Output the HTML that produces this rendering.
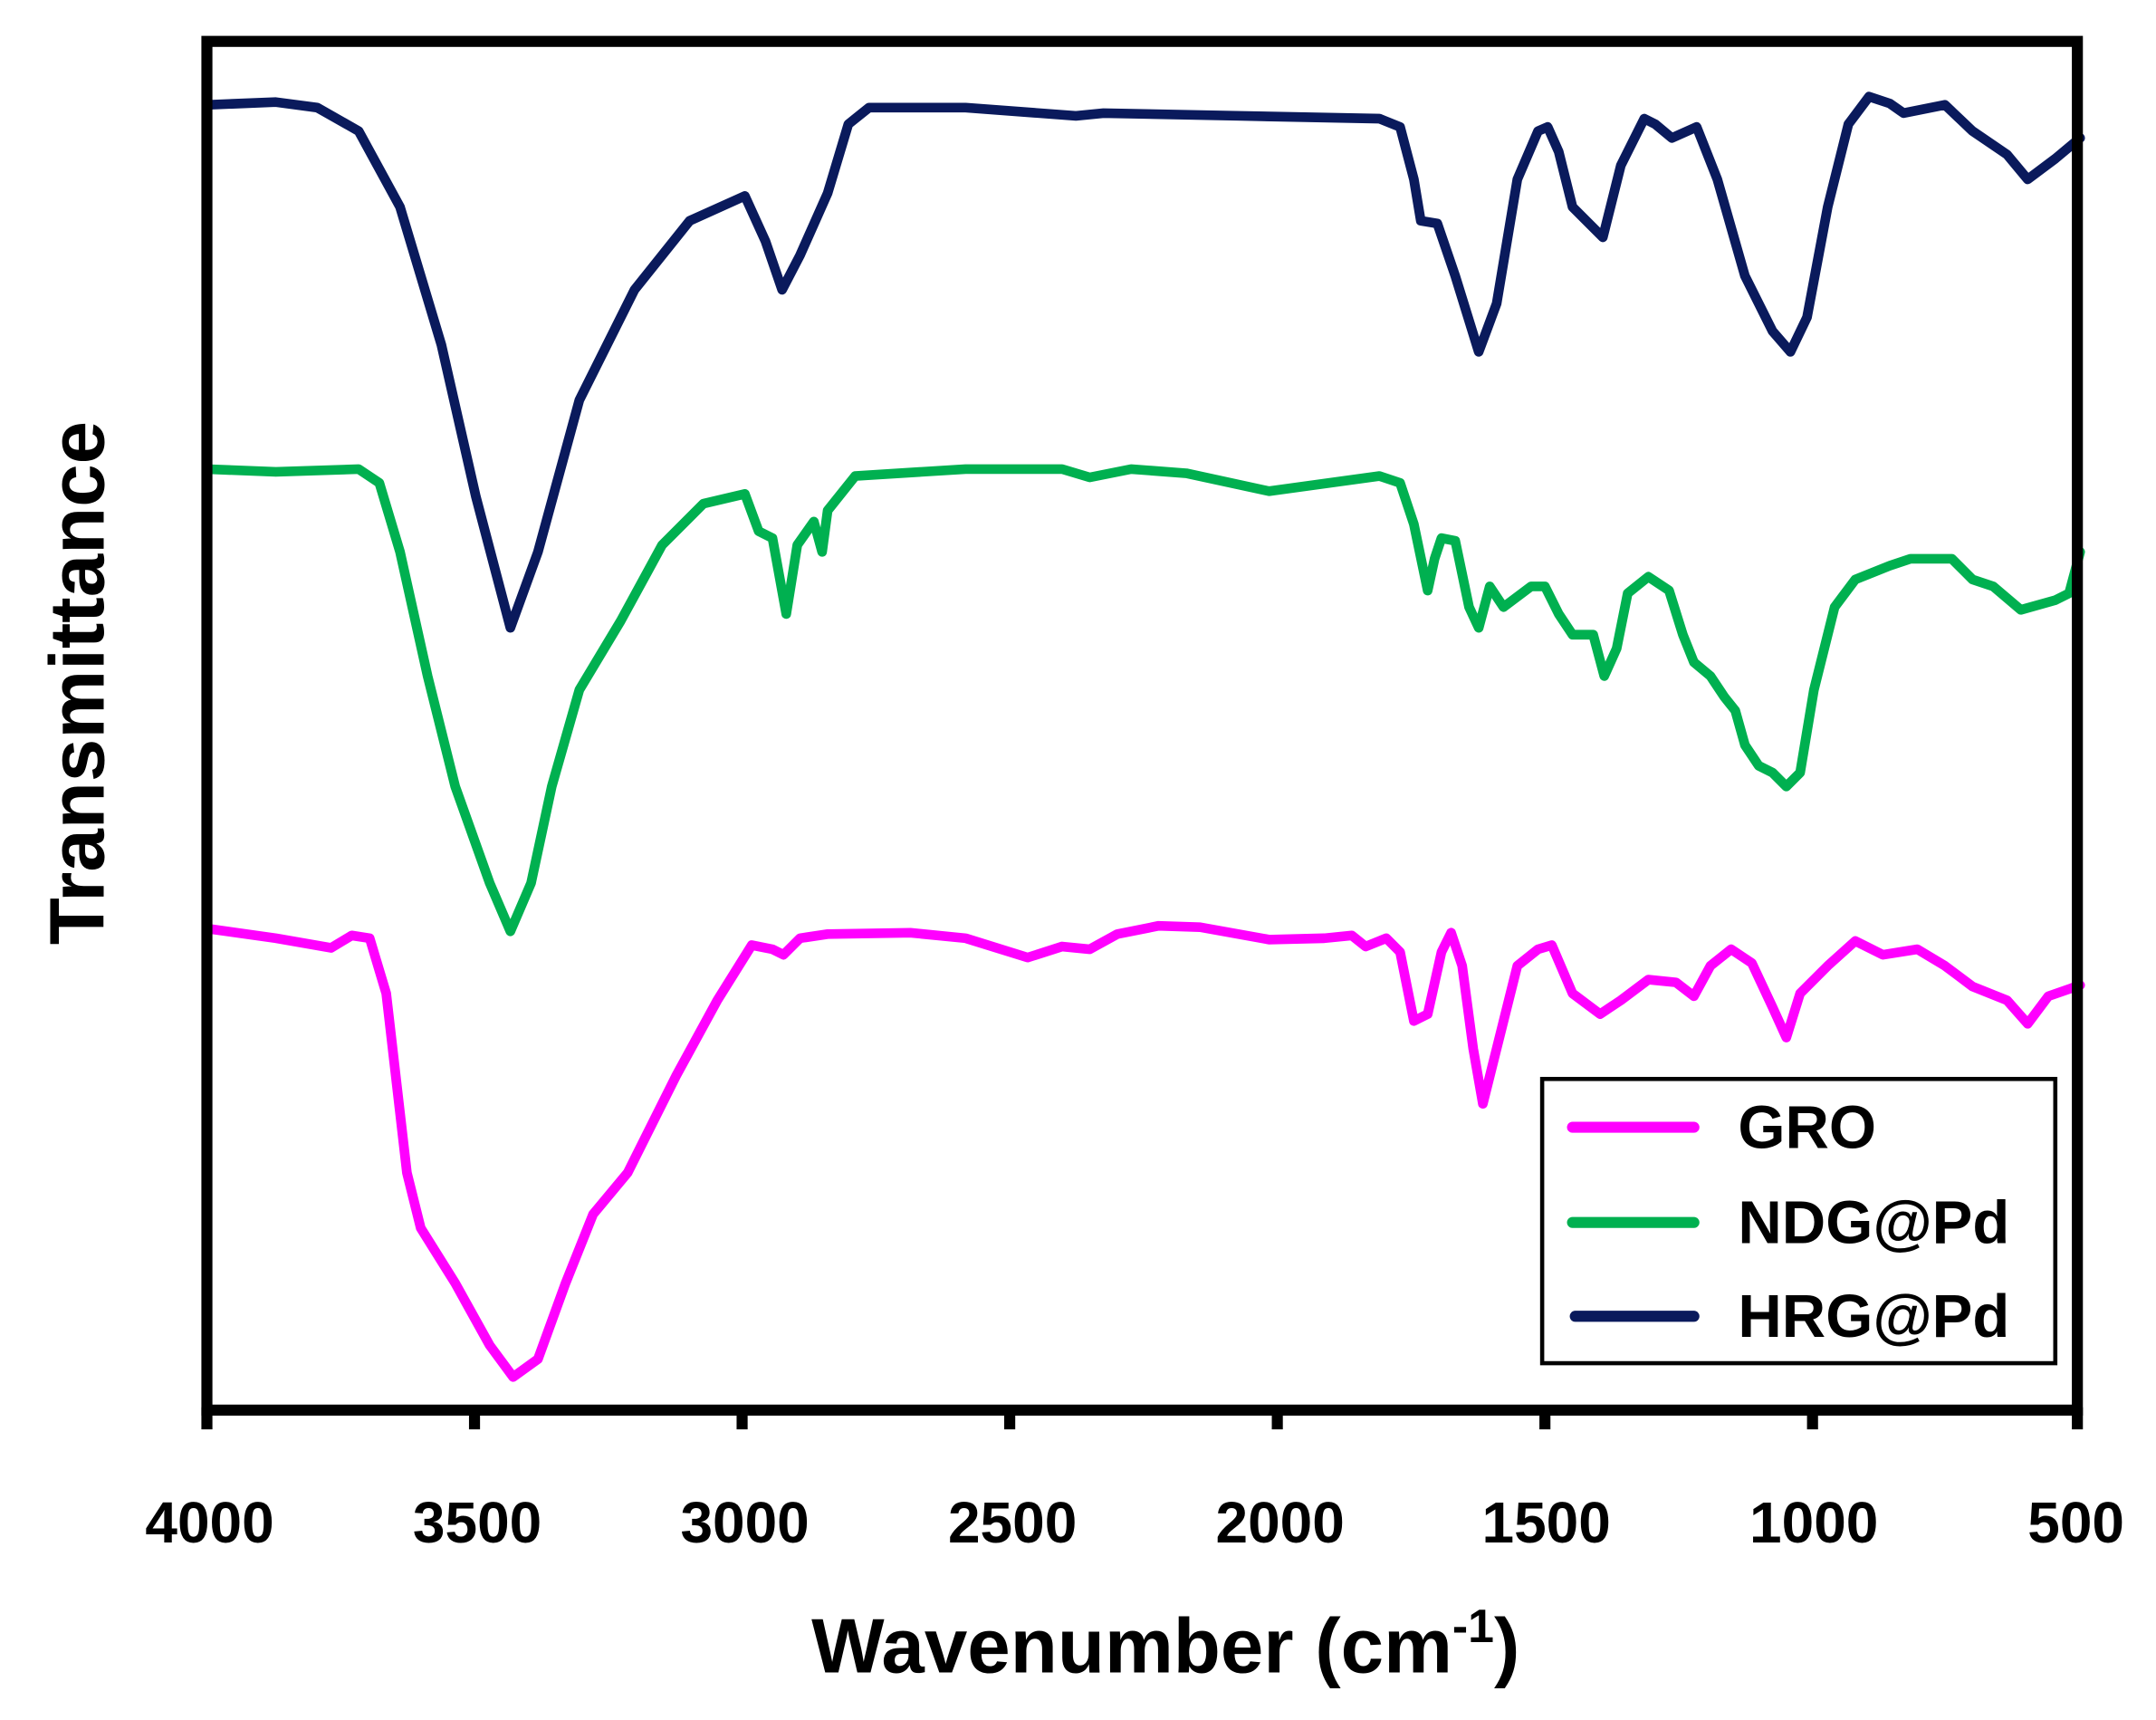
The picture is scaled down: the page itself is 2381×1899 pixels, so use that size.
<!DOCTYPE html>
<html><head><meta charset="utf-8"><style>
html,body{margin:0;padding:0;background:#fff;width:2381px;height:1899px;overflow:hidden}
svg{display:block}
text{font-family:"Liberation Sans",sans-serif;font-weight:bold;fill:#000}
</style></head><body>
<svg width="2381" height="1899" viewBox="0 0 1563 1246.6" preserveAspectRatio="none">
<rect x="0" y="0" width="1563" height="1247" fill="#fff"/>
<g fill="none" stroke-linejoin="round" stroke-linecap="round" stroke-width="7">
<polyline stroke="#0a1a5c" points="150,76 200,74 230,78 260,95 290,150 320,250 345,360 370,455 390,400 420,290 460,210 500,160 540,142 555,175 567,210 580,185 600,140 615,90 630,78 700,78 780,84 800,82 900,84 1000,86 1015,92 1025,130 1030,160 1042,162 1055,200 1072,255 1085,220 1100,130 1115,95 1122,92 1130,110 1140,150 1162,172 1175,120 1192,86 1200,90 1212,100 1230,92 1245,130 1265,200 1285,240 1298,255 1310,230 1325,150 1340,90 1355,70 1370,75 1380,82 1410,76 1430,95 1455,112 1470,130 1490,115 1508,100"/>
<polyline stroke="#00b050" points="150,340 200,342 260,340 275,350 290,400 310,490 330,570 355,640 370,675 385,640 400,570 420,500 450,450 480,395 510,365 540,358 550,385 560,390 570,445 578,395 590,378 596,400 600,370 620,345 700,340 770,340 790,346 820,340 860,343 920,356 1000,345 1015,350 1025,380 1035,428 1040,405 1045,390 1055,392 1065,440 1072,455 1080,425 1090,440 1110,425 1120,425 1130,445 1140,460 1155,460 1163,490 1172,470 1180,430 1195,418 1210,428 1220,460 1228,480 1240,490 1250,505 1258,515 1265,540 1275,555 1285,560 1295,570 1305,560 1315,500 1330,440 1345,420 1370,410 1385,405 1415,405 1430,420 1445,425 1465,442 1490,435 1500,430 1508,400"/>
<polyline stroke="#ff00ff" points="150,673 200,680 240,687 255,678 268,680 280,720 295,850 305,890 330,930 355,975 372,998 390,985 410,930 430,880 455,850 490,780 520,725 545,685 560,688 568,692 580,680 600,677 660,676 700,680 745,694 770,686 790,688 810,677 840,671 870,672 920,681 960,680 980,678 990,686 1005,680 1015,690 1025,740 1035,735 1045,690 1052,676 1060,700 1068,760 1075,800 1085,760 1100,700 1115,688 1125,685 1140,720 1160,735 1175,725 1195,710 1215,712 1228,722 1240,700 1255,688 1270,698 1285,730 1295,752 1305,720 1325,700 1345,682 1365,692 1390,688 1410,700 1430,715 1455,725 1470,742 1485,722 1508,714"/>
</g>
<rect x="150" y="30" width="1356" height="992" fill="none" stroke="#000" stroke-width="8"/>
<g stroke="#000" stroke-width="8">
<line x1="150" y1="1020" x2="150" y2="1036"/><line x1="344" y1="1020" x2="344" y2="1036"/><line x1="538" y1="1020" x2="538" y2="1036"/><line x1="732" y1="1020" x2="732" y2="1036"/><line x1="926" y1="1020" x2="926" y2="1036"/><line x1="1120" y1="1020" x2="1120" y2="1036"/><line x1="1314" y1="1020" x2="1314" y2="1036"/><line x1="1506" y1="1020" x2="1506" y2="1036"/>
</g>
<g font-size="42" text-anchor="middle" style="font-weight:normal">
<text x="152" y="1118">4000</text><text x="346" y="1118">3500</text><text x="540" y="1118">3000</text><text x="734" y="1118">2500</text><text x="928" y="1118">2000</text><text x="1121" y="1118">1500</text><text x="1315" y="1118">1000</text><text x="1505" y="1118">500</text>
</g>
<text x="845" y="1212" font-size="56" text-anchor="middle">Wavenumber (cm<tspan font-size="34" dy="-22">-1</tspan><tspan dy="22">)</tspan></text>
<text transform="translate(75,495) rotate(-90)" font-size="56" text-anchor="middle">Transmittance</text>
<rect x="1118" y="782" width="372" height="206" fill="#fff" stroke="#000" stroke-width="3"/>
<g stroke-width="8" stroke-linecap="round">
<line x1="1140" y1="817" x2="1228" y2="817" stroke="#ff00ff"/>
<line x1="1140" y1="886" x2="1228" y2="886" stroke="#00b050"/>
<line x1="1142" y1="954" x2="1228" y2="954" stroke="#0a1a5c"/>
</g>
<g font-size="44" style="font-weight:normal">
<text x="1260" y="832">GRO</text><text x="1260" y="901">NDG@Pd</text><text x="1260" y="969">HRG@Pd</text>
</g>
</svg>
</body></html>
